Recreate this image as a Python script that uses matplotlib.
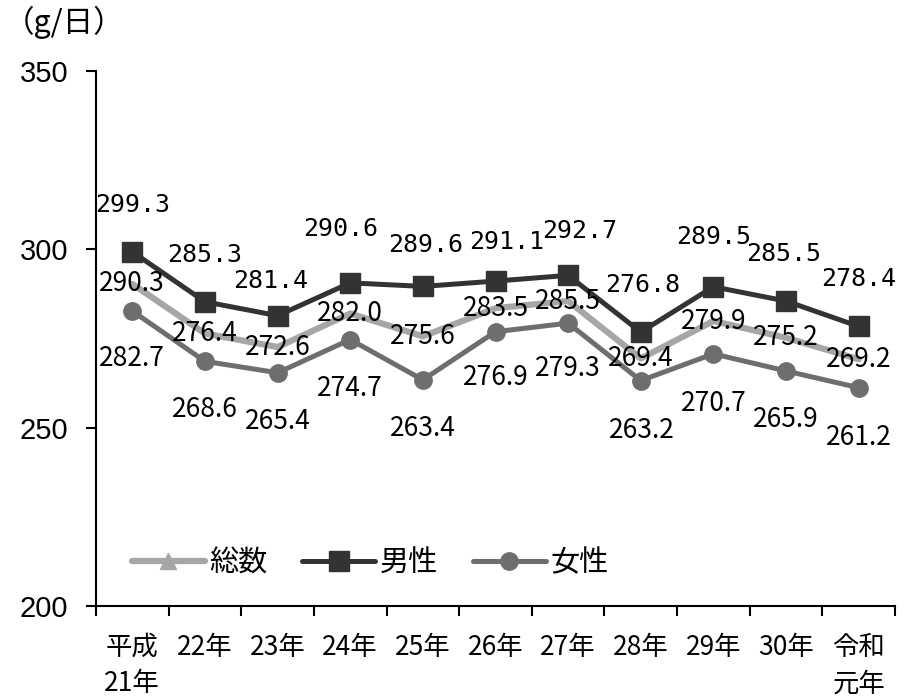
import matplotlib
matplotlib.use("Agg")
import matplotlib.pyplot as plt
from matplotlib.lines import Line2D

plt.rcParams['font.family'] = ['Noto Sans CJK JP', 'DejaVu Sans']

years = ["平成\n21年", "22年", "23年", "24年", "25年", "26年",
         "27年", "28年", "29年", "30年", "令和\n元年"]
total = [290.3, 276.4, 272.6, 282.0, 275.6, 283.5, 285.5, 269.4, 279.9, 275.2, 269.2]
male = [299.3, 285.3, 281.4, 290.6, 289.6, 291.1, 292.7, 276.8, 289.5, 285.5, 278.4]
female = [282.7, 268.6, 265.4, 274.7, 263.4, 276.9, 279.3, 263.2, 270.7, 265.9, 261.2]

# label offsets in points (x, y) relative to each point
male_off = [(0, 34), (0, 34), (-5, 25), (-7, 39), (2, 30), (8, 28), (8, 32),
            (1, 34), (0, 36), (-2, 34), (0, 34)]
female_off = [(0, -34), (0, -35), (0, -35), (0, -35), (0, -35), (0, -33),
              (0, -33), (1, -36), (0, -36), (0, -35), (0, -36)]

c_total = "#a6a6a6"
c_male = "#333333"
c_female = "#6e6e6e"

fig = plt.figure(figsize=(9.08, 6.98), dpi=100)
ax = fig.add_axes([96 / 908, 1 - 606 / 698, 799 / 908, 535 / 698])

x = list(range(len(years)))
ax.plot(x, total, color=c_total, lw=4.5, zorder=2, solid_capstyle="round")
ax.plot(x, female, color=c_female, lw=3.6, marker="o", ms=12.5,
        zorder=3)
ax.plot(x, male, color=c_male, lw=3.6, marker="s", ms=14,
        zorder=4)

for i, v in enumerate(male):
    ax.annotate(f"{v:.1f}", (i, v), xytext=male_off[i], textcoords="offset points",
                ha="center", va="center", fontsize=18,
                family=["DejaVu Sans Mono"], zorder=6)
for i, v in enumerate(total):
    ax.annotate(f"{v:.1f}", (i, v), xytext=(0, 0), textcoords="offset points",
                ha="center", va="center", fontsize=19, zorder=6)
for i, v in enumerate(female):
    ax.annotate(f"{v:.1f}", (i, v), xytext=female_off[i], textcoords="offset points",
                ha="center", va="center", fontsize=19, zorder=6)

ax.set_xlim(-0.5, len(years) - 0.5)
ax.set_ylim(200, 350)
ax.set_yticks([200, 250, 300, 350])
ax.set_yticklabels(["200", "250", "300", "350"], family=["Liberation Sans"], fontsize=21)
ax.set_xticks(x)
ax.set_xticklabels(years, fontsize=19, linespacing=1.45)
ax.set_xticks([i - 0.5 for i in range(len(years) + 1)], minor=True)
ax.tick_params(axis="x", which="major", length=0, pad=20)
ax.tick_params(axis="x", which="minor", length=7, width=1.5, direction="out")
ax.tick_params(axis="y", length=7, width=1.5, direction="out", pad=13)

for s in ["top", "right"]:
    ax.spines[s].set_visible(False)
for s in ["left", "bottom"]:
    ax.spines[s].set_linewidth(1.5)

handles = [
    Line2D([], [], color=c_total, lw=4.5, marker="^", ms=12, solid_capstyle="round"),
    Line2D([], [], color=c_male, lw=3.6, marker="s", ms=14, solid_capstyle="round"),
    Line2D([], [], color=c_female, lw=3.6, marker="o", ms=12.5, solid_capstyle="round"),
]
ax.legend(handles, ["総数", "男性", "女性"], loc="center", bbox_to_anchor=(0.343, 0.08),
          ncol=3, frameon=False, fontsize=21, handlelength=2.5, handletextpad=0.15,
          columnspacing=1.2)

fig.text(4 / 908, 1 - 22 / 698, "（g/日）", fontsize=22, va="center", ha="left")

fig.savefig("out.png", dpi=100)
